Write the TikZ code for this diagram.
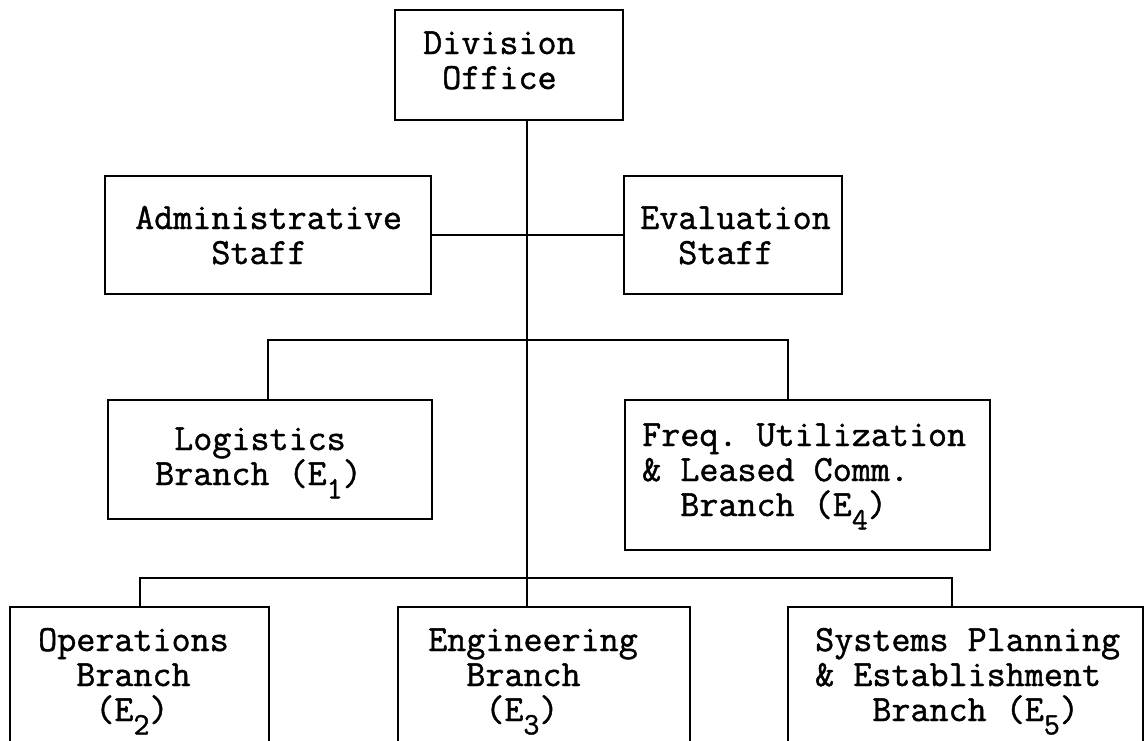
\documentclass[tikz,border=0pt]{standalone}
\usepackage{fontspec}
% Typewritten organisation chart of the division
\newfontfamily\typewriter{Latin Modern Mono}[FakeBold=1.2]
\newcommand\chartfont{\fontsize{37}{35}\selectfont\typewriter\frenchspacing}
% lowered typewriter digit for the branch codes
\newcommand\lowdigit[1]{\raisebox{-0.36em}{\fontsize{31}{31}\selectfont #1}}
% stacked lines, first baseline is the node baseline
\newcommand\typed[1]{\vtop{\baselineskip=35pt\lineskiplimit=-100pt\lineskip=0pt
  \halign{##\hfil\cr#1\crcr}}}
\begin{document}
\begin{tikzpicture}[x=1pt,y=-1pt,
  box/.style={draw, line width=2.6pt, rectangle, inner sep=0pt, outer sep=0pt},
  link/.style={line width=2.6pt},
  txt/.style={anchor=base west, inner sep=0pt, font=\chartfont}]
\useasboundingbox (0,0) rectangle (1145,740);
\fill[white] (0,0) rectangle (1145,740);
\clip (0,0) rectangle (1145,740);

% boxes
\node[box, minimum width=228pt, minimum height=110pt] (div) at (509,65) {};
\node[box, minimum width=326pt, minimum height=118pt] (adm) at (268,235) {};
\node[box, minimum width=218pt, minimum height=118pt] (evl) at (733,235) {};
\node[box, minimum width=324pt, minimum height=119pt] (log) at (270,459.5) {};
\node[box, minimum width=365pt, minimum height=150pt] (frq) at (807.5,475) {};
\node[box, minimum width=259pt, minimum height=163pt] (op)  at (139.5,688.5) {};
\node[box, minimum width=292pt, minimum height=163pt] (eng) at (544,688.5) {};
\node[box, minimum width=355pt, minimum height=163pt] (sys) at (965.5,688.5) {};

% box texts
\node[txt] (div-t) at (423,54)  {\typed{Division\cr\phantom{x}Office}};
\node[txt] (adm-t) at (135,229) {\typed{Administrative\cr\phantom{xxxx}Staff}};
\node[txt] (evl-t) at (640,229) {\typed{Evaluation\cr\phantom{xx}Staff}};
\node[txt] (log-t) at (155,450) {\typed{\phantom{x}Logistics\cr Branch (E\lowdigit{1})}};
\node[txt] (frq-t) at (642,446) {\typed{Freq. Utilization\cr \& Leased Comm.\cr\phantom{xx}Branch (E\lowdigit{4})}};
\node[txt] (op-t)  at (38,651)  {\typed{Operations\cr\phantom{xx}Branch\cr\phantom{xxx}(E\lowdigit{2})}};
\node[txt] (eng-t) at (428,651) {\typed{Engineering\cr\phantom{xx}Branch\cr\phantom{xxx}(E\lowdigit{3})}};
\node[txt] (sys-t) at (815,651) {\typed{Systems Planning\cr \& Establishment\cr\phantom{xxx}Branch (E\lowdigit{5})}};

% where the connectors run
\coordinate (spine) at (527,0);
\coordinate (bar1) at (527,340);
\coordinate (bar2) at (527,578);
\coordinate (d-log) at (268,0);
\coordinate (d-frq) at (788,0);
\coordinate (d-op) at (140,0);
\coordinate (d-sys) at (952,0);

% connectors
\draw[link] (div.south -| spine) -- (eng.north -| spine);
\draw[link] (adm.east) -- (evl.west);
\draw[link] (log.north -| d-log) -- (d-log |- bar1) -- (d-frq |- bar1) -- (frq.north -| d-frq);
\draw[link] (op.north -| d-op) -- (d-op |- bar2) -- (d-sys |- bar2) -- (sys.north -| d-sys);
\end{tikzpicture}
\end{document}
